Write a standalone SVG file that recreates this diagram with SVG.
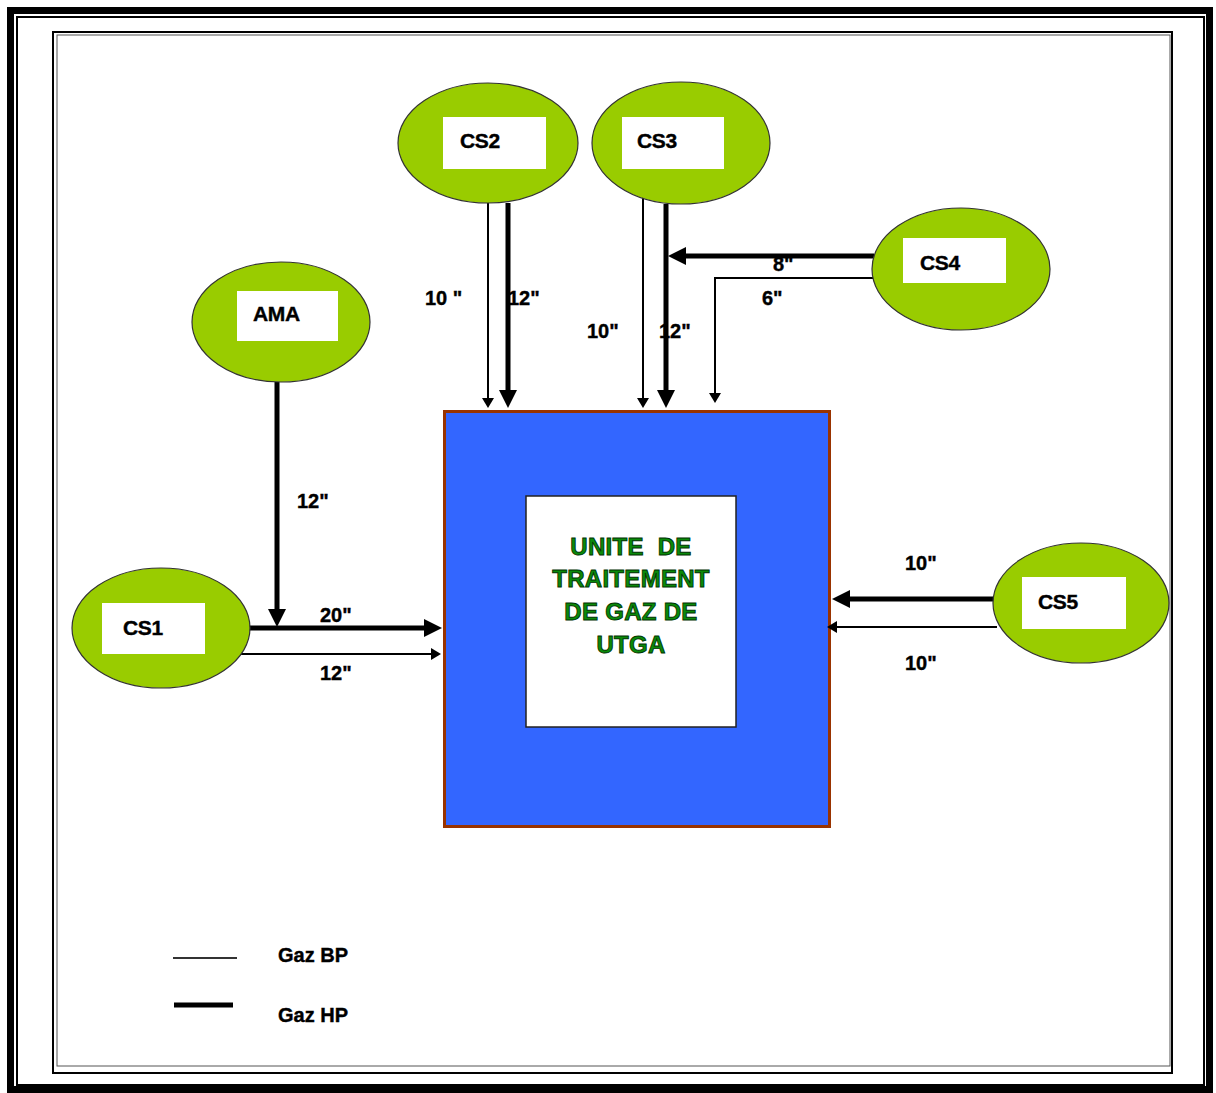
<svg xmlns="http://www.w3.org/2000/svg" width="1216" height="1093" viewBox="0 0 1216 1093">
<style>
.node ellipse{fill:#99CC00;stroke:#333333;stroke-width:1.2}
.lbl{fill:#ffffff;stroke:none}
.t{font-family:"Liberation Sans",Arial,sans-serif;font-weight:bold;fill:#000000;stroke:#000000;stroke-width:0.4}
.nt{font-size:21px;letter-spacing:-0.3px}
.mt{font-size:20px}
.thin{stroke:#000;stroke-width:2;fill:none}
.thick{stroke:#000;stroke-width:5;fill:none}
.ct{font-family:"Liberation Sans",Arial,sans-serif;font-weight:bold;font-size:24px;fill:#0A8A0A;stroke:#003300;stroke-width:0.9;text-anchor:middle;letter-spacing:0.3px}
</style>
<defs>
<marker id="ahThin" markerUnits="userSpaceOnUse" markerWidth="10" markerHeight="12" viewBox="0 0 10 12" refX="1" refY="6" orient="auto"><path d="M0,0 L10,6 L0,12 z" fill="#000"/></marker>
<marker id="ahThick" markerUnits="userSpaceOnUse" markerWidth="18" markerHeight="18" viewBox="0 0 18 18" refX="1" refY="9" orient="auto"><path d="M0,0 L18,9 L0,18 z" fill="#000"/></marker>
</defs>
<rect width="1216" height="1093" fill="#ffffff"/>
<g id="frame" fill="none">
<rect x="10.5" y="10.5" width="1199" height="1079" stroke="#000" stroke-width="7"/>
<rect x="17" y="17" width="1187" height="1068" stroke="#000" stroke-width="2"/>
<rect x="53" y="32" width="1119" height="1041" stroke="#000" stroke-width="2"/>
<rect x="57" y="35" width="1113" height="1031" stroke="#555" stroke-width="1"/>
</g>
<g id="utga">
<rect x="444.5" y="411.5" width="385" height="415" fill="#3366FF" stroke="#993300" stroke-width="3"/>
<rect x="526" y="496" width="210" height="231" fill="#ffffff" stroke="#222" stroke-width="1.5"/>
<text class="ct" x="631" y="555" xml:space="preserve">UNITE  DE</text>
<text class="ct" x="631" y="587">TRAITEMENT</text>
<text class="ct" x="631" y="620">DE GAZ DE</text>
<text class="ct" x="631" y="653">UTGA</text>
</g>
<g id="connectors">
<path class="thin" d="M488,203 V399" marker-end="url(#ahThin)"/>
<path class="thick" d="M508,203 V391" marker-end="url(#ahThick)"/>
<path class="thin" d="M643,195 V399" marker-end="url(#ahThin)"/>
<path class="thick" d="M666,204 V391" marker-end="url(#ahThick)"/>
<path class="thick" d="M874,256 H685" marker-end="url(#ahThick)"/>
<path class="thin" d="M877,278 H715 V394" marker-end="url(#ahThin)"/>
<path class="thick" d="M277,382 V610" marker-end="url(#ahThick)"/>
<path class="thick" d="M249,628 H425" marker-end="url(#ahThick)"/>
<path class="thin" d="M240,654 H432" marker-end="url(#ahThin)"/>
<path class="thick" d="M994,599 H849" marker-end="url(#ahThick)"/>
<path class="thin" d="M997,627 H836" marker-end="url(#ahThin)"/>
</g>
<g id="pipe-labels" class="t mt">
<text x="425" y="305">10 "</text>
<text x="508" y="305">12"</text>
<text x="587" y="338">10"</text>
<text x="659" y="338">12"</text>
<text x="773" y="271">8"</text>
<text x="762" y="305">6"</text>
<text x="297" y="508">12"</text>
<text x="320" y="622">20"</text>
<text x="320" y="680">12"</text>
<text x="905" y="570">10"</text>
<text x="905" y="670">10"</text>
</g>
<g id="CS2" class="node">
<ellipse cx="488" cy="143" rx="90" ry="60"/>
<rect class="lbl" x="443" y="117" width="103" height="52"/>
<text class="t nt" x="460" y="148">CS2</text>
</g>
<g id="CS3" class="node">
<ellipse cx="681" cy="143" rx="89" ry="61"/>
<rect class="lbl" x="622" y="117" width="102" height="52"/>
<text class="t nt" x="637" y="148">CS3</text>
</g>
<g id="CS4" class="node">
<ellipse cx="961" cy="269" rx="89" ry="61"/>
<rect class="lbl" x="903" y="238" width="103" height="45"/>
<text class="t nt" x="920" y="270">CS4</text>
</g>
<g id="AMA" class="node">
<ellipse cx="281" cy="322" rx="89" ry="60"/>
<rect class="lbl" x="237" y="291" width="101" height="50"/>
<text class="t nt" x="253" y="321">AMA</text>
</g>
<g id="CS1" class="node">
<ellipse cx="161" cy="628" rx="89" ry="60"/>
<rect class="lbl" x="102" y="603" width="103" height="51"/>
<text class="t nt" x="123" y="635">CS1</text>
</g>
<g id="CS5" class="node">
<ellipse cx="1081" cy="603" rx="88" ry="60"/>
<rect class="lbl" x="1022" y="577" width="104" height="52"/>
<text class="t nt" x="1038" y="609">CS5</text>
</g>
<g id="legend">
<line x1="173" y1="958" x2="237" y2="958" stroke="#333" stroke-width="2"/>
<line x1="174" y1="1005" x2="233" y2="1005" stroke="#000" stroke-width="5"/>
<text class="t mt" x="278" y="962">Gaz BP</text>
<text class="t mt" x="278" y="1022">Gaz HP</text>
</g>
</svg>
